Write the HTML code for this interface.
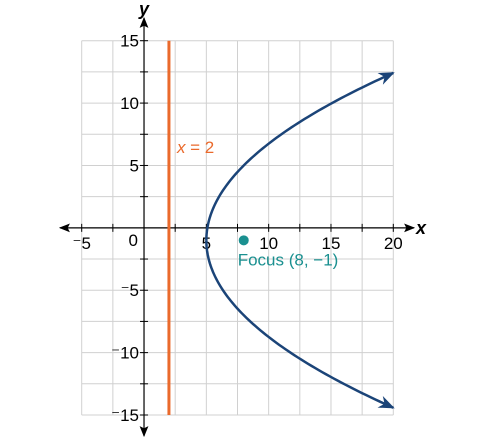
<!DOCTYPE html>
<html><head><meta charset="utf-8"><style>
html,body{margin:0;padding:0;background:#fff;}
svg text{font-family:"Liberation Sans",sans-serif;}
</style></head><body>
<svg id="chart" width="487" height="440" viewBox="0 0 487 440" xmlns="http://www.w3.org/2000/svg">
<defs>
<marker id="ax" viewBox="0 0 10 10" refX="9" refY="5" markerWidth="11" markerHeight="11" markerUnits="userSpaceOnUse" orient="auto-start-reverse"><path d="M0,1 L10,5 L0,9 L2,5 Z" fill="#000"/></marker>
<marker id="cv" viewBox="0 0 10 10" refX="9" refY="5" markerWidth="16" markerHeight="16" markerUnits="userSpaceOnUse" orient="auto"><path d="M0,1 L10,5 L0,9 L3,5 Z" fill="#1b4478"/></marker>
</defs>
<g id="grid"></g>
<g id="axes"></g>
<g id="plot"></g>
</svg>
<script>
const xTicks=[-5,5,10,15,20];
const yTicks=[-15,-10,-5,5,10,15];
const gridStep=[2.5];
const directrixX=[2];
const focus=[8,-1];
const vertex=[5,-1];
const xDomain=[-5,20];
const yDomain=[-15,15];

const NS="http://www.w3.org/2000/svg";
const X0=81.7,X1=393.3,Y0=415,Y1=40.7;
const sx=v=>X0+(v-xDomain[0])*(X1-X0)/(xDomain[1]-xDomain[0]);
const sy=v=>Y0-(v-yDomain[0])*(Y0-Y1)/(yDomain[1]-yDomain[0]);
function mk(tag,attrs,parent){const e=document.createElementNS(NS,tag);for(const k in attrs)e.setAttribute(k,attrs[k]);parent.appendChild(e);return e;}
const grid=document.getElementById('grid'),axes=document.getElementById('axes'),plot=document.getElementById('plot');
const st=gridStep[0];
for(let v=xDomain[0];v<=xDomain[1]+1e-9;v+=st){const l=mk('line',{x1:sx(v),x2:sx(v),y1:sy(yDomain[0]),y2:sy(yDomain[1]),stroke:'#d0d0d0','stroke-width':1},grid);

}
for(let v=yDomain[0];v<=yDomain[1]+1e-9;v+=st){const l=mk('line',{x1:sx(xDomain[0]),x2:sx(xDomain[1]),y1:sy(v),y2:sy(v),stroke:'#d0d0d0','stroke-width':1},grid);

}
const xa=mk('line',{x1:60,x2:414,y1:sy(0),y2:sy(0),stroke:'#000','stroke-width':1.2,'marker-end':'url(#ax)','marker-start':'url(#ax)'},axes);


const ya=mk('line',{x1:sx(0),x2:sx(0),y1:436,y2:18,stroke:'#000','stroke-width':1.2,'marker-end':'url(#ax)','marker-start':'url(#ax)'},axes);


for(let v=xDomain[0];v<=xDomain[1]+1e-9;v+=st){if(Math.abs(v)<1e-9)continue;mk('line',{x1:sx(v),x2:sx(v),y1:sy(0)-4,y2:sy(0)+4,stroke:'#000','stroke-width':1},axes);}
for(let v=yDomain[0];v<=yDomain[1]+1e-9;v+=st){if(Math.abs(v)<1e-9)continue;mk('line',{x1:sx(0)-4,x2:sx(0)+4,y1:sy(v),y2:sy(v),stroke:'#000','stroke-width':1},axes);}
function lab(v){return v<0?'\u207B'+Math.abs(v):String(v);}
xTicks.forEach(v=>{const t=mk('text',{x:sx(v),y:sy(0)+21,'font-size':17,'text-anchor':'middle',fill:'#000'},axes);t.textContent=lab(v);

});
yTicks.forEach(v=>{const t=mk('text',{x:sx(0)-5,y:sy(v)+6,'font-size':17,'text-anchor':'end',fill:'#000'},axes);t.textContent=lab(v);

});
let t=mk('text',{x:sx(0)-6,y:sy(0)+18,'font-size':17,'text-anchor':'end'},axes);t.textContent='0';
t=mk('text',{x:416,y:sy(0)+6,'font-size':18,'font-style':'italic','font-weight':'bold'},axes);t.textContent='x';


t=mk('text',{x:sx(0),y:15,'font-size':18,'font-style':'italic','font-weight':'bold','text-anchor':'middle'},axes);t.textContent='y';


const d=mk('line',{x1:sx(directrixX[0]),x2:sx(directrixX[0]),y1:sy(yDomain[0]),y2:sy(yDomain[1]),stroke:'#ea6a2c','stroke-width':3},plot);


t=mk('text',{x:sx(directrixX[0])+8,y:sy(6),'font-size':17,fill:'#ea6a2c'},plot);
t.innerHTML='<tspan font-style="italic">x</tspan> = 2';


const p=focus[0]-vertex[0],h=vertex[0],k=vertex[1];
const ymax=k+Math.sqrt(4*p*(xDomain[1]-h)),ymin=k-Math.sqrt(4*p*(xDomain[1]-h));
function branch(y1,y2){let s='';const N=80;for(let i=0;i<=N;i++){const y=y1+(y2-y1)*i/N;const x=h+(y-k)*(y-k)/(4*p);s+=(i?'L':'M')+sx(x).toFixed(2)+','+sy(y).toFixed(2);}return s;}
let c=mk('path',{d:branch(k,ymax),fill:'none',stroke:'#1b4478','stroke-width':2.5,'marker-end':'url(#cv)'},plot);


c=mk('path',{d:branch(k,ymin),fill:'none',stroke:'#1b4478','stroke-width':2.5,'marker-end':'url(#cv)'},plot);


const f=mk('circle',{cx:sx(focus[0]),cy:sy(focus[1]),r:5,fill:'#1a9090'},plot);


t=mk('text',{x:sx(focus[0])-6,y:sy(focus[1])+25,'font-size':17,fill:'#1a9090'},plot);
t.textContent='Focus ('+focus[0]+', \u2212'+Math.abs(focus[1])+')';


</script>
</body></html>
